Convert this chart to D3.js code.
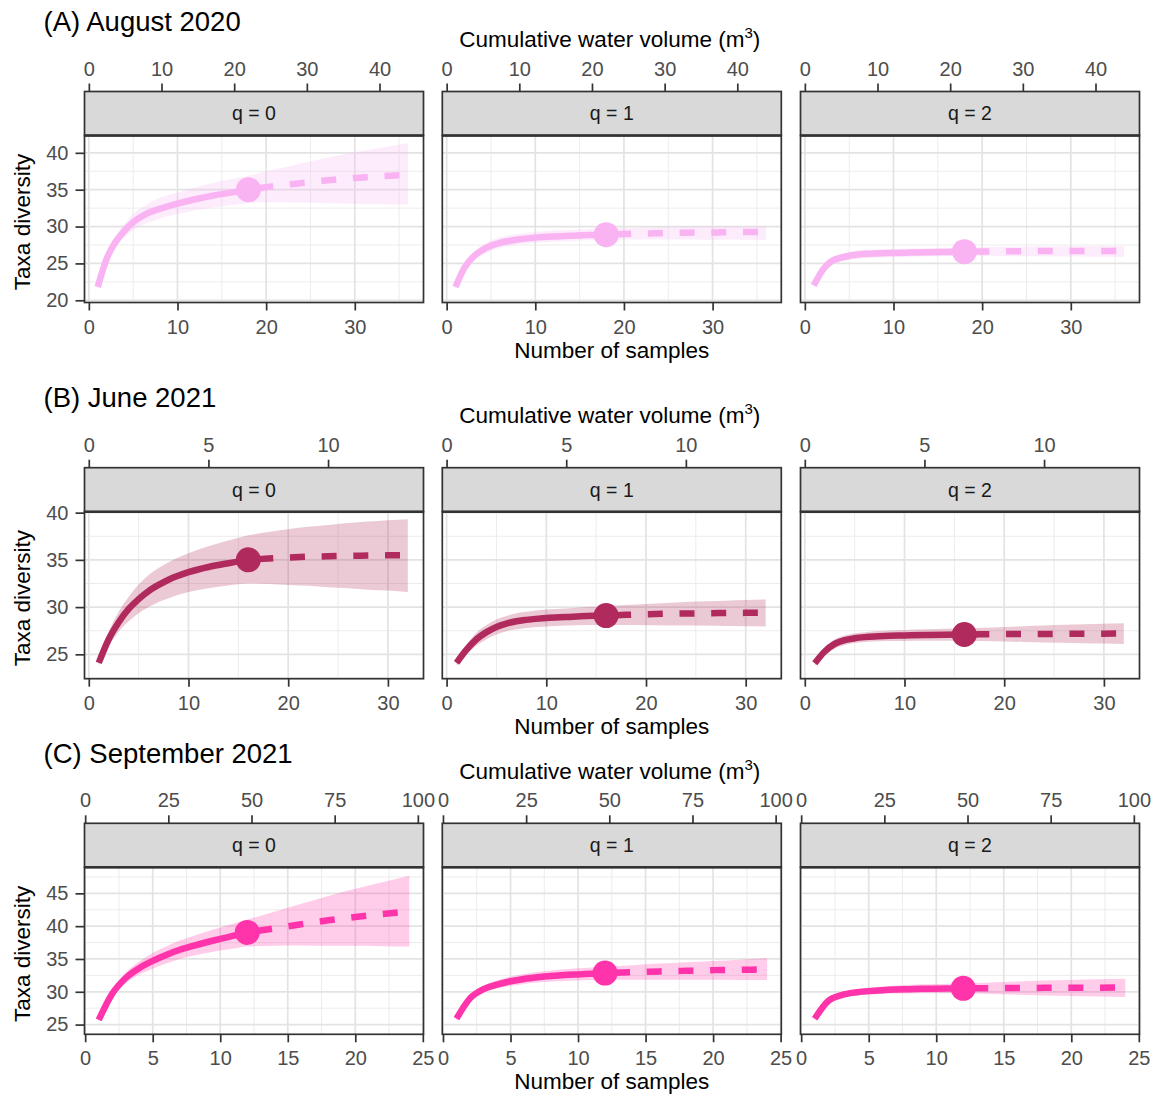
<!DOCTYPE html>
<html>
<head>
<meta charset="utf-8">
<script src="https://cdn.jsdelivr.net/npm/d3@7"></script>
<style>
  body { margin: 0; background: #ffffff; }
  text { font-family: "Liberation Sans", Arial, Helvetica, sans-serif; }
</style>
</head>
<body>
<svg id="chart" width="1157" height="1100"></svg>
<script>
// ---- Surveys (rows) and Hill-number orders (columns) ----
const surveys = ["(A) August 2020", "(B) June 2021", "(C) September 2021"];
const orders = ["q = 0", "q = 1", "q = 2"];
const observedSamples = [18, 16, 12];
const volumePerSample = [1.22, 0.4167, 4.06];
const lineColors = ["#f9b3f2", "#b12a5d", "#ff33aa"];

// ---- Axis ticks and limits per survey ----
const sampleTicks = [[0, 10, 20, 30], [0, 10, 20, 30], [0, 5, 10, 15, 20, 25]];
const volumeTicks = [[0, 10, 20, 30, 40], [0, 5, 10], [0, 25, 50, 75, 100]];
const diversityTicks = [[20, 25, 30, 35, 40], [25, 30, 35, 40], [25, 30, 35, 40, 45]];
const sampleLimits = [[-0.49, 37.75], [-0.43, 33.57], [-0.05, 25.05]];
const diversityLimits = [[19.7, 42.35], [22.42, 40.1], [23.52, 48.97]];

// ---- Sample-size knots of the rarefaction / extrapolation curves ----
const knotsA = [1, 2, 3, 4, 5, 6, 7, 8, 10, 12, 14, 16, 18, 20, 22, 24, 26, 28, 30, 32, 34, 36];
const knotsB = [1, 2, 3, 4, 5, 6, 7, 8, 10, 12, 14, 16, 18, 20, 22, 24, 26, 28, 30, 32];
const knotsC = [1, 2, 3, 4, 5, 6, 7, 8, 9, 10, 11, 12, 14, 16, 18, 20, 22, 24];

// August 2020
const estA0 = [21.8, 25.6, 27.9, 29.4, 30.6, 31.4, 32.0, 32.4, 33.1, 33.7, 34.2, 34.6, 35.0, 35.35, 35.65, 35.9, 36.15, 36.4, 36.6, 36.75, 36.9, 37.0];
const lowA0 = [21.5, 25.0, 27.1, 28.5, 29.5, 30.2, 30.7, 31.1, 31.7, 32.2, 32.6, 32.9, 33.2, 33.3, 33.3, 33.25, 33.2, 33.15, 33.1, 33.05, 33.0, 33.0];
const uppA0 = [22.1, 26.2, 28.7, 30.3, 31.7, 32.6, 33.3, 33.9, 34.6, 35.3, 35.9, 36.4, 36.9, 37.5, 38.0, 38.6, 39.1, 39.6, 40.1, 40.5, 40.9, 41.3];
const estA1 = [21.8, 24.4, 25.9, 26.8, 27.4, 27.8, 28.05, 28.25, 28.5, 28.65, 28.75, 28.85, 28.9, 29.0, 29.05, 29.1, 29.15, 29.2, 29.2, 29.25, 29.25, 29.3];
const lowA1 = [21.5, 23.9, 25.3, 26.15, 26.7, 27.1, 27.35, 27.55, 27.8, 27.95, 28.05, 28.15, 28.2, 28.25, 28.25, 28.25, 28.25, 28.25, 28.2, 28.25, 28.2, 28.2];
const uppA1 = [22.1, 24.9, 26.5, 27.45, 28.1, 28.5, 28.8, 29.0, 29.25, 29.45, 29.55, 29.65, 29.7, 29.8, 29.85, 29.9, 29.95, 30.0, 30.0, 30.05, 30.0, 30.0];
const estA2 = [22.0, 24.1, 25.3, 25.75, 26.05, 26.2, 26.3, 26.35, 26.42, 26.47, 26.52, 26.56, 26.6, 26.62, 26.64, 26.66, 26.67, 26.68, 26.69, 26.7, 26.7, 26.7];
const lowA2 = [21.7, 23.7, 24.8, 25.25, 25.5, 25.65, 25.75, 25.8, 25.87, 25.92, 25.97, 26.01, 26.05, 26.03, 26.0, 25.98, 25.97, 25.95, 25.93, 25.92, 25.9, 25.9];
const uppA2 = [22.3, 24.5, 25.8, 26.25, 26.6, 26.75, 26.85, 26.9, 26.97, 27.02, 27.07, 27.11, 27.15, 27.19, 27.22, 27.25, 27.28, 27.3, 27.32, 27.34, 27.36, 27.38];

// June 2021
const estB0 = [24.1, 26.6, 28.4, 29.8, 30.85, 31.7, 32.35, 32.9, 33.7, 34.25, 34.65, 35.0, 35.15, 35.25, 35.33, 35.38, 35.42, 35.45, 35.48, 35.5];
const lowB0 = [23.8, 25.9, 27.4, 28.5, 29.35, 30.0, 30.55, 30.95, 31.6, 32.0, 32.3, 32.5, 32.45, 32.35, 32.25, 32.1, 32.0, 31.85, 31.75, 31.6];
const uppB0 = [24.4, 27.4, 29.5, 31.1, 32.4, 33.4, 34.15, 34.75, 35.7, 36.45, 37.05, 37.6, 37.95, 38.25, 38.5, 38.7, 38.9, 39.05, 39.2, 39.3];
const estB1 = [24.1, 25.5, 26.6, 27.35, 27.9, 28.25, 28.5, 28.65, 28.85, 28.95, 29.05, 29.1, 29.18, 29.24, 29.29, 29.32, 29.35, 29.37, 29.39, 29.4];
const lowB1 = [23.8, 25.0, 25.9, 26.6, 27.1, 27.45, 27.65, 27.8, 27.95, 28.05, 28.1, 28.1, 28.1, 28.08, 28.06, 28.04, 28.02, 28.0, 27.98, 27.95];
const uppB1 = [24.4, 26.0, 27.3, 28.1, 28.7, 29.05, 29.35, 29.5, 29.75, 29.85, 30.0, 30.1, 30.22, 30.34, 30.44, 30.53, 30.61, 30.68, 30.75, 30.8];
const estB2 = [24.05, 25.3, 26.1, 26.5, 26.7, 26.82, 26.9, 26.95, 27.0, 27.05, 27.08, 27.1, 27.12, 27.14, 27.15, 27.16, 27.17, 27.18, 27.19, 27.2];
const lowB2 = [23.8, 24.9, 25.6, 26.0, 26.2, 26.3, 26.35, 26.4, 26.42, 26.44, 26.45, 26.45, 26.4, 26.35, 26.3, 26.26, 26.22, 26.18, 26.14, 26.1];
const uppB2 = [24.3, 25.7, 26.6, 27.0, 27.2, 27.34, 27.45, 27.5, 27.58, 27.66, 27.71, 27.75, 27.82, 27.9, 27.98, 28.05, 28.12, 28.18, 28.24, 28.3];

// September 2021
const estC0 = [25.7, 29.7, 32.1, 33.6, 34.7, 35.6, 36.4, 37.0, 37.55, 38.05, 38.55, 39.05, 39.65, 40.3, 40.9, 41.4, 41.85, 42.25];
const lowC0 = [25.4, 29.2, 31.3, 32.6, 33.5, 34.3, 35.0, 35.5, 35.9, 36.3, 36.6, 36.9, 37.0, 37.05, 37.0, 37.0, 36.95, 36.9];
const uppC0 = [26.0, 30.2, 32.9, 34.6, 35.9, 36.9, 37.8, 38.5, 39.2, 39.8, 40.4, 41.0, 42.2, 43.4, 44.6, 45.7, 46.7, 47.7];
const estC1 = [25.9, 29.0, 30.4, 31.1, 31.6, 31.95, 32.2, 32.4, 32.55, 32.65, 32.75, 32.85, 33.0, 33.1, 33.2, 33.3, 33.35, 33.4];
const lowC1 = [25.6, 28.7, 29.9, 30.5, 30.9, 31.2, 31.4, 31.55, 31.65, 31.72, 31.78, 31.82, 31.85, 31.85, 31.84, 31.83, 31.81, 31.8];
const uppC1 = [26.2, 29.3, 30.9, 31.7, 32.3, 32.7, 33.0, 33.25, 33.45, 33.58, 33.7, 33.82, 34.05, 34.3, 34.5, 34.7, 34.9, 35.1];
const estC2 = [25.9, 28.6, 29.5, 29.9, 30.1, 30.25, 30.35, 30.4, 30.45, 30.48, 30.5, 30.52, 30.55, 30.58, 30.6, 30.62, 30.63, 30.65];
const lowC2 = [25.6, 28.3, 29.1, 29.45, 29.6, 29.7, 29.75, 29.75, 29.76, 29.77, 29.77, 29.77, 29.65, 29.55, 29.45, 29.35, 29.27, 29.2];
const uppC2 = [26.2, 28.9, 29.9, 30.35, 30.6, 30.8, 30.95, 31.05, 31.14, 31.19, 31.23, 31.27, 31.4, 31.55, 31.7, 31.8, 31.9, 32.0];

const knots = [knotsA, knotsB, knotsC];
const estimates = [[estA0, estA1, estA2], [estB0, estB1, estB2], [estC0, estC1, estC2]];
const lowers = [[lowA0, lowA1, lowA2], [lowB0, lowB1, lowB2], [lowC0, lowC1, lowC2]];
const uppers = [[uppA0, uppA1, uppA2], [uppB0, uppB1, uppB2], [uppC0, uppC1, uppC2]];

// ---- Layout ----
const svg = d3.select("#chart");
const panelLefts = [84.5, 442.3, 800.5];
const panelWidth = 339;
const stripTops = [91.5, 467.7, 823.3];
const stripHeight = 44;
const plotHeight = 167;
const ink = "#333333";
const tickGrey = "#4d4d4d";

function styleAxis(g) {
  g.select(".domain").remove();
  g.selectAll(".tick line").attr("stroke", ink).attr("stroke-width", 1.7);
  g.selectAll(".tick text").attr("fill", tickGrey).attr("font-size", 20)
    .attr("font-family", "'Liberation Sans', Arial, Helvetica, sans-serif");
}

function minorValues(ticks, domain) {
  const step = ticks[1] - ticks[0];
  const vals = [ticks[0] - step / 2].concat(ticks.map(t => t + step / 2));
  return vals.filter(v => v > domain[0] && v < domain[1]);
}

surveys.forEach((title, r) => {
  const stripTop = stripTops[r];
  const plotTop = stripTop + stripHeight;
  const plotBottom = plotTop + plotHeight;
  const color = lineColors[r];
  const obs = observedSamples[r];

  // Row title
  svg.append("text").attr("x", 43.5).attr("y", stripTop - 60.5)
    .attr("font-size", 27.5).attr("fill", "#000").text(title);

  // Secondary axis title
  const sec = svg.append("text").attr("x", panelLefts[1] + panelWidth / 2 - 2).attr("y", stripTop - 44.5)
    .attr("text-anchor", "middle").attr("font-size", 22.5).attr("fill", "#000");
  sec.append("tspan").text("Cumulative water volume (m");
  sec.append("tspan").attr("font-size", 15).attr("dy", -9).text("3");
  sec.append("tspan").attr("dy", 9).text(")");

  // Bottom axis title
  svg.append("text").attr("x", panelLefts[1] + panelWidth / 2).attr("y", plotBottom + 55)
    .attr("text-anchor", "middle").attr("font-size", 22.5).attr("fill", "#000")
    .text("Number of samples");

  // Y axis title
  const yMid = (plotTop + plotBottom) / 2 + 3;
  svg.append("text").attr("transform", `translate(29.5,${yMid}) rotate(-90)`)
    .attr("text-anchor", "middle").attr("font-size", 22.5).attr("fill", "#000")
    .text("Taxa diversity");

  const y = d3.scaleLinear().domain(diversityLimits[r]).range([plotBottom, plotTop]);

  orders.forEach((label, q) => {
    const left = panelLefts[q];
    const right = left + panelWidth;
    const x = d3.scaleLinear().domain(sampleLimits[r]).range([left, right]);
    const xVol = d3.scaleLinear()
      .domain(sampleLimits[r].map(v => v * volumePerSample[r]))
      .range([left, right]);

    const g = svg.append("g");
    const clipId = `clip-${r}-${q}`;
    svg.append("clipPath").attr("id", clipId)
      .append("rect").attr("x", left).attr("y", plotTop).attr("width", panelWidth).attr("height", plotHeight);

    // Grid
    const grid = g.append("g");
    minorValues(sampleTicks[r], sampleLimits[r]).forEach(v => {
      grid.append("line").attr("x1", x(v)).attr("x2", x(v)).attr("y1", plotTop).attr("y2", plotBottom)
        .attr("stroke", "#ececec").attr("stroke-width", 1);
    });
    minorValues(diversityTicks[r], diversityLimits[r]).forEach(v => {
      grid.append("line").attr("x1", left).attr("x2", right).attr("y1", y(v)).attr("y2", y(v))
        .attr("stroke", "#ececec").attr("stroke-width", 1);
    });
    sampleTicks[r].forEach(v => {
      grid.append("line").attr("x1", x(v)).attr("x2", x(v)).attr("y1", plotTop).attr("y2", plotBottom)
        .attr("stroke", "#e3e3e3").attr("stroke-width", 1.7);
    });
    diversityTicks[r].forEach(v => {
      grid.append("line").attr("x1", left).attr("x2", right).attr("y1", y(v)).attr("y2", y(v))
        .attr("stroke", "#e3e3e3").attr("stroke-width", 1.7);
    });

    // Curves
    const rows = knots[r].map((k, i) => ({
      m: k, est: estimates[r][q][i], lo: lowers[r][q][i], hi: uppers[r][q][i]
    }));
    const plot = g.append("g").attr("clip-path", `url(#${clipId})`);

    const area = d3.area().x(d => x(d.m)).y0(d => y(d.lo)).y1(d => y(d.hi))
      .curve(d3.curveMonotoneX);
    plot.append("path").datum(rows).attr("d", area)
      .attr("fill", color).attr("fill-opacity", 0.25);

    const line = d3.line().x(d => x(d.m)).y(d => y(d.est)).curve(d3.curveMonotoneX);
    plot.append("path").datum(rows.filter(d => d.m <= obs)).attr("d", line)
      .attr("fill", "none").attr("stroke", color).attr("stroke-width", 6.5);
    plot.append("path").datum(rows.filter(d => d.m >= obs)).attr("d", line)
      .attr("fill", "none").attr("stroke", color).attr("stroke-width", 6.5)
      .attr("stroke-dasharray", "15,16.7").attr("stroke-dashoffset", 21.7);

    const obsRow = rows.find(d => d.m === obs);
    plot.append("circle").attr("cx", x(obsRow.m)).attr("cy", y(obsRow.est)).attr("r", 12.5)
      .attr("fill", color);

    // Panel border
    g.append("rect").attr("x", left).attr("y", plotTop).attr("width", panelWidth).attr("height", plotHeight)
      .attr("fill", "none").attr("stroke", ink).attr("stroke-width", 1.7);

    // Strip
    g.append("rect").attr("x", left).attr("y", stripTop).attr("width", panelWidth).attr("height", stripHeight)
      .attr("fill", "#d9d9d9").attr("stroke", ink).attr("stroke-width", 1.7);
    g.append("line").attr("x1", left).attr("x2", right).attr("y1", plotTop).attr("y2", plotTop)
      .attr("stroke", ink).attr("stroke-width", 2.6);
    g.append("text").attr("x", left + panelWidth / 2).attr("y", stripTop + stripHeight / 2)
      .attr("dy", "0.35em").attr("text-anchor", "middle").attr("font-size", 19.5)
      .attr("fill", "#1a1a1a").text(label);

    // Axes
    svg.append("g").attr("transform", `translate(0,${plotBottom})`)
      .call(d3.axisBottom(x).tickValues(sampleTicks[r]).tickSize(8).tickPadding(9).tickFormat(d3.format("d")))
      .call(styleAxis);
    svg.append("g").attr("transform", `translate(0,${stripTop})`)
      .call(d3.axisTop(xVol).tickValues(volumeTicks[r]).tickSize(8).tickPadding(8).tickFormat(d3.format("d")))
      .call(styleAxis);
    if (q === 0) {
      svg.append("g").attr("transform", `translate(${left},0)`)
        .call(d3.axisLeft(y).tickValues(diversityTicks[r]).tickSize(9).tickPadding(7).tickFormat(d3.format("d")))
        .call(styleAxis);
    }
  });
});
</script>
</body>
</html>
